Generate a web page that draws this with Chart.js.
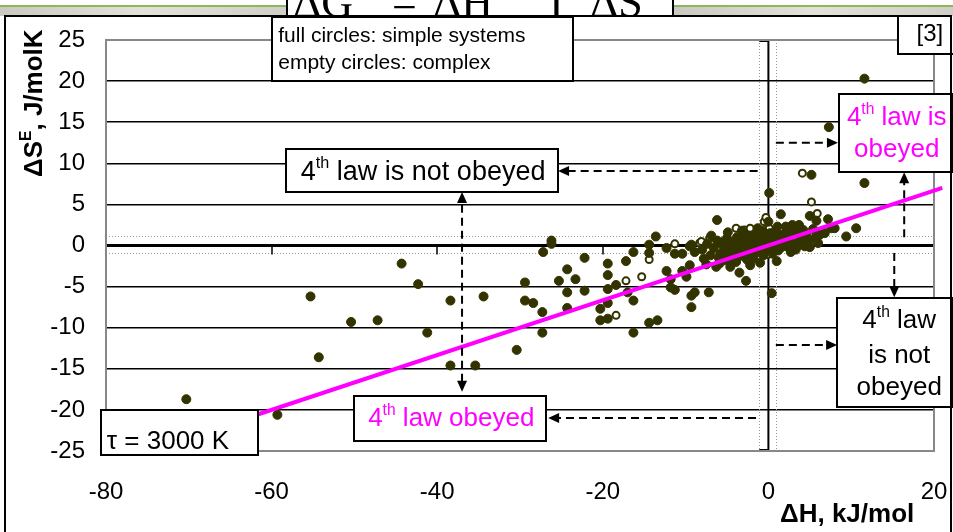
<!DOCTYPE html>
<html>
<head>
<meta charset="utf-8">
<script src="https://cdn.jsdelivr.net/npm/chart.js@4.4.1/dist/chart.umd.min.js"></script>
<style>
  html, body { margin: 0; padding: 0; background: #fff; }
  #wrap { width: 953px; height: 532px; }
</style>
</head>
<body>
<div id="wrap"><canvas id="myChart" width="953" height="532"></canvas></div>
<script>
// full circles : simple systems (dH kJ/mol , dS J/molK)
let simpleX = [-70.3, -59.3, -55.3, -54.3, -50.4, -47.2, -44.3, -42.3, -41.2, -38.4, -38.4, -35.4, -34.4, -30.4,
    -29.4, -29.4, -28.4, -27.3, -27.3, -27.2, -26.2, -26.2, -25.3, -24.3, -24.3, -24.3, -23.3, -22.2, -22.2,
    -20.3, -20.3, -19.4, -19.4, -19.4, -19.4, -19.4, -18.4, -17.2, -17.0, -16.3, -16.3, -16.3, -14.4, -13.4,
    -14.4, -14.4, -13.6, -12.3, -12.3, -11.3, -10.4, -11.8, -11.3, -11.8, -10.4, -9.9, -9.5, -9.3, -8.9, -9.3,
    -9.5, -8.9, -9.3, -7.5, -6.3, -7.2, -6.2, -3.5, -2.7, 0.4, 0.1, 1.5, 5.2, 11.6, 11.6, 7.3, 5.0, 5.8, 7.2,
    8.0, 10.6, 9.4, 5.6, 6.2, 4.6, 6.8, 7.6, 2.5, 3.5, 4.4, 2.1, 3.7, 4.6, 0.3, 0.7, 1.1, 2.1, 2.9, 3.7, -1.3,
    0.0, -8.0, -7.4, -7.0, -6.6, -6.2, -5.8, -5.5, -5.2, -5.0, -4.7, -4.4, -4.1, -3.8, -3.6, -3.3, -3.0, -2.8,
    -2.6, -2.3, -2.0, -1.8, -1.6, -1.3, -1.1, -0.8, -0.6, -0.4, -0.2, 0.2, 0.5, 0.9, 1.2, 1.5, 1.8, 2.3, 2.7,
    3.1, 3.3, 4.0, 5.0, -5.9, -4.6, -3.9, -7.8, -6.9, -2.2, -1.0, 1.0, -4.9, -3.2,
    -5.6, -5.1, -4.8, -4.3, -4.0, -3.7, -3.4, -3.1, -2.9, -2.5, -2.1, -1.9, -1.5, -1.2, -0.9, -0.7, -0.3,
    0.4, 0.8, 1.3, 1.6, 2.0, 2.4, 2.8, 3.2, 3.6, 4.2, 4.8, 5.4, 6.0, -6.0, -5.3, -4.4, -3.5, -2.6];
let simpleY = [-18.7, -20.6, -6.2, -13.6, -9.3, -9.1, -2.2, -4.7, -10.6, -6.7, -14.6, -14.6, -6.2, -12.7,
    -4.5, -6.7, -7.0, -8.1, -10.6, -0.8, 0.6, 0.2, -4.3, -2.9, -5.7, -7.6, -4.1, -1.5, -5.5,
    -7.7, -9.1, -8.9, -2.2, -3.6, -5.3, -7.0, -4.8, -1.9, -5.7, -0.8, -6.7, -10.6, -9.4, -9.1,
    0.1, -0.9, 1.1, -0.3, -3.1, -1.0, -1.0, -4.1, -5.4, -5.1, -3.1, -3.8, -2.4, -6.1, -5.7, -7.5,
    -0.1, -0.8, 0.1, -2.3, -2.6, -5.7, 3.1, -3.3, -4.3, -5.8, 6.4, 3.8, 8.6, 7.6, 20.3, 14.4, 3.6, 3.0, 3.2,
    2.1, 2.1, 1.1, 0.9, 1.3, 1.3, 1.5, 2.1, -0.3, -0.1, -0.1, 0.3, 0.3, 0.5, 0.5, -0.3, 2.3, 2.3, 2.5, 2.5, 2.1,
    2.9, -0.5, 0.2, -1.2, -0.3, 0.6, -1.0, 0.0, -1.8, 0.9, -0.6, 0.3, -1.4, 1.0, -0.2, 0.6, -1.0, 1.3,
    0.1, -0.7, 0.8, -1.6, 0.3, 1.4, -0.4, 0.6, -1.2, 1.0, 0.0, 1.5, -1.0, 0.9, -0.6, 1.3, 0.1, 1.1, -0.8,
    1.6, -0.5, 0.8, -0.2, -2.2, -2.6, -2.0, -1.6, 1.2, -2.4, -2.1, -1.9, 1.6, 1.8,
    0.4, -0.4, 0.2, -0.9, 0.5, -0.5, 0.9, 0.2, -0.5, 0.5, -0.2, 1.2, -0.9, 0.7, 0.0, 1.8, -0.6,
    0.3, 1.7, 0.4, -0.2, 1.5, 0.6, 1.9, 0.2, 1.3, 1.9, 0.5, 2.0, 0.3, -1.5, -1.0, -1.6, -1.3, -1.7];

// empty circles : complex systems
let complexX = [-18.4, -17.2, -15.3, -14.4, -11.3, -8.3, -7.1, -8.1, -3.9, -2.9, -2.2, -0.5, -0.3, 0.1, -0.1, 4.1, 5.2, 5.9];
let complexY = [-8.5, -4.3, -3.8, -1.7, 0.2, 0.3, 0.9, 0.5, 2.1, 1.9, 2.1, 2.9, 3.4, 2.1, -1.1, 8.8, 5.3, 3.9];

// the tau = 3000 K line
let tauX = [-75, 21];
let tauY = [-25, 7];

let xTicks = [-80, -60, -40, -20, 0, 20];

const FONT = '"Liberation Sans", Arial, sans-serif';
const SERIF = '"Liberation Serif", "Times New Roman", serif';
const OLIVE = "#333300";
const MAGENTA = "#ff00ff";

function toPoints(xs, ys) {
    return xs.map(function (x, i) { return {x: x, y: ys[i]}; });
}

// text boxes, in data units
let boxes = [
    {x1: -60.0, y1: 27.8, x2: -23.6, y2: 20.0},
    {x1: 15.6, y1: 28.4, x2: 22.6, y2: 23.3},
    {x1: -58.3, y1: 11.7, x2: -25.4, y2: 6.5},
    {x1: 8.5, y1: 18.4, x2: 22.2, y2: 8.9},
    {x1: 8.3, y1: -6.4, x2: 22.2, y2: -19.6},
    {x1: -50.0, y1: -18.3, x2: -26.9, y2: -23.8},
    {x1: -80.6, y1: -20.0, x2: -61.6, y2: -25.5},
];

let labels = [
    {x: -59.2, y: 24.8, size: 21, color: "#000", align: "left", parts: [{t: "full circles: simple systems"}]},
    {x: -59.2, y: 21.5, size: 21, color: "#000", align: "left", parts: [{t: "empty circles: complex"}]},
    {x: 19.5, y: 24.9, size: 24, color: "#000", align: "center", parts: [{t: "[3]"}]},
    {x: -41.7, y: 8.0, size: 27, color: "#000", align: "center", parts: [{t: "4"}, {t: "th", sup: true}, {t: " law is not obeyed"}]},
    {x: 15.5, y: 14.65, size: 26, color: MAGENTA, align: "center", parts: [{t: "4"}, {t: "th", sup: true}, {t: " law is"}]},
    {x: 15.5, y: 10.8, size: 26, color: MAGENTA, align: "center", parts: [{t: "obeyed"}]},
    {x: 15.8, y: -10.07, size: 26, color: "#000", align: "center", parts: [{t: "4"}, {t: "th", sup: true}, {t: " law"}]},
    {x: 15.8, y: -14.33, size: 26, color: "#000", align: "center", parts: [{t: "is not"}]},
    {x: 15.8, y: -18.2, size: 26, color: "#000", align: "center", parts: [{t: "obeyed"}]},
    {x: -38.3, y: -22.0, size: 26, color: MAGENTA, align: "center", parts: [{t: "4"}, {t: "th", sup: true}, {t: " law obeyed"}]},
    {x: -79.9, y: -24.8, size: 26, color: "#000", align: "left", parts: [{t: "\u03c4 = 3000 K"}]},
];

// dashed arrows [x1, y1, x2, y2, head at start, head at end]
let arrows = [
    [-1.3, 9.06, -25.4, 9.06, false, true],
    [0.9, 12.5, 8.4, 12.5, false, true],
    [-37.0, -17.8, -37.0, 6.5, true, true],
    [16.4, 1.0, 16.4, 8.9, false, true],
    [15.2, -0.9, 15.2, -6.3, false, true],
    [0.9, -12.1, 8.3, -12.1, false, true],
    [-1.5, -21.0, -26.6, -21.0, false, true],
];

function richText(ctx, parts, x, y, size, color, align, bold) {
    let w = 0;
    parts.forEach(function (p) {
        ctx.font = (bold ? "bold " : "") + (p.sup ? size * 0.6 : size) + "px " + FONT;
        w += ctx.measureText(p.t).width;
    });
    let cx = align === "center" ? x - w / 2 : x;
    ctx.fillStyle = color;
    ctx.textAlign = "left";
    ctx.textBaseline = "alphabetic";
    parts.forEach(function (p) {
        ctx.font = (bold ? "bold " : "") + (p.sup ? size * 0.6 : size) + "px " + FONT;
        ctx.fillText(p.t, cx, p.sup ? y - size * 0.42 : y);
        cx += ctx.measureText(p.t).width;
    });
}

function head(ctx, x, y, ang) {
    ctx.save();
    ctx.translate(x, y);
    ctx.rotate(ang);
    ctx.beginPath();
    ctx.moveTo(0, 0);
    ctx.lineTo(-11, -5);
    ctx.lineTo(-11, 5);
    ctx.closePath();
    ctx.fill();
    ctx.restore();
}

let overlay = {
    id: "overlay",
    beforeDatasetsDraw: function (chart) {
        let ctx = chart.ctx, a = chart.chartArea;
        let X = function (v) { return chart.scales.x.getPixelForValue(v); };
        let Y = function (v) { return chart.scales.y.getPixelForValue(v); };
        ctx.save();
        // dotted band round zero
        ctx.strokeStyle = "#9a9a80";
        ctx.lineWidth = 1;
        ctx.setLineDash([1, 2]);
        [1.1, -0.9].forEach(function (v) {
            ctx.beginPath(); ctx.moveTo(a.left, Math.round(Y(v)) + 0.5); ctx.lineTo(a.right, Math.round(Y(v)) + 0.5); ctx.stroke();
        });
        [-1.1, 0.9].forEach(function (v) {
            ctx.beginPath(); ctx.moveTo(Math.round(X(v)) + 0.5, a.top); ctx.lineTo(Math.round(X(v)) + 0.5, a.bottom); ctx.stroke();
        });
        ctx.setLineDash([]);
        // zero lines
        ctx.strokeStyle = "#000";
        ctx.lineWidth = 3;
        ctx.beginPath(); ctx.moveTo(a.left, Y(0)); ctx.lineTo(a.right, Y(0)); ctx.stroke();
        ctx.lineWidth = 2;
        ctx.beginPath(); ctx.moveTo(X(0), a.top); ctx.lineTo(X(0), a.bottom); ctx.stroke();
        ctx.beginPath(); ctx.moveTo(X(-1.1), a.top + 1); ctx.lineTo(X(0), a.top + 1); ctx.stroke();
        ctx.beginPath(); ctx.moveTo(X(-1.1), a.bottom - 1); ctx.lineTo(X(0), a.bottom - 1); ctx.stroke();
        // tick marks on the x axis (crosses at 0)
        ctx.lineWidth = 1.5;
        xTicks.forEach(function (v) {
            let px = Math.round(X(v));
            ctx.beginPath(); ctx.moveTo(px, Y(0)); ctx.lineTo(px, Y(0) + 9); ctx.stroke();
        });
        // plot border
        ctx.strokeStyle = "#888";
        ctx.lineWidth = 2;
        ctx.strokeRect(a.left, a.top, a.right - a.left, a.bottom - a.top);
        ctx.restore();
    },
    afterDatasetsDraw: function (chart) {
        let ctx = chart.ctx, a = chart.chartArea;
        let X = function (v) { return chart.scales.x.getPixelForValue(v); };
        let Y = function (v) { return chart.scales.y.getPixelForValue(v); };
        ctx.save();

        // dashed arrows
        ctx.strokeStyle = "#000";
        ctx.fillStyle = "#000";
        ctx.lineWidth = 2;
        arrows.forEach(function (r) {
            let x1 = X(r[0]), y1 = Y(r[1]), x2 = X(r[2]), y2 = Y(r[3]);
            let ang = Math.atan2(y2 - y1, x2 - x1);
            let dx = Math.cos(ang) * 10, dy = Math.sin(ang) * 10;
            ctx.setLineDash([8, 5]);
            ctx.beginPath();
            ctx.moveTo(r[4] ? x1 + dx : x1, r[4] ? y1 + dy : y1);
            ctx.lineTo(r[5] ? x2 - dx : x2, r[5] ? y2 - dy : y2);
            ctx.stroke();
            ctx.setLineDash([]);
            if (r[4]) head(ctx, x1, y1, ang + Math.PI);
            if (r[5]) head(ctx, x2, y2, ang);
        });

        // boxes
        ctx.lineWidth = 2;
        boxes.forEach(function (b) {
            let x1 = Math.round(X(b.x1)), y1 = Math.round(Y(b.y1));
            let w = Math.round(X(b.x2)) - x1, h = Math.round(Y(b.y2)) - y1;
            ctx.fillStyle = "#fff";
            ctx.fillRect(x1, y1, w, h);
            ctx.strokeRect(x1, y1, w, h);
        });
        labels.forEach(function (l) {
            richText(ctx, l.parts, X(l.x), Y(l.y), l.size, l.color, l.align, false);
        });

        // axis titles
        ctx.save();
        ctx.translate(42, 177);
        ctx.rotate(-Math.PI / 2);
        richText(ctx, [{t: "\u0394S"}, {t: "E", sup: true}, {t: ", J/molK"}], 0, 0, 26, "#000", "left", true);
        ctx.restore();
        richText(ctx, [{t: "\u0394H, kJ/mol"}], 780, 522, 26, "#000", "left", true);

        // slide frame and header strip
        [[0, 287], [673, 280]].forEach(function (s) {
            let g = ctx.createLinearGradient(s[0], 0, s[0] + s[1], 0);
            g.addColorStop(0, "#c9c9c1");
            g.addColorStop(0.5, "#e2e2da");
            g.addColorStop(1, "#cfcfc7");
            ctx.fillStyle = "#fff";
            ctx.fillRect(s[0], 0, s[1], 16);
            ctx.fillStyle = g;
            ctx.fillRect(s[0], 7, s[1], 9);
            ctx.fillStyle = "#8cb85c";
            ctx.fillRect(s[0], 5, s[1], 2);
        });
        ctx.fillStyle = "#fff";
        ctx.fillRect(287, 0, 386, 16);
        ctx.save();
        ctx.beginPath();
        ctx.rect(288, 0, 384, 15);
        ctx.clip();
        ctx.fillStyle = "#000";
        ctx.font = "44px " + SERIF;
        ctx.textBaseline = "alphabetic";
        ctx.textAlign = "left";
        [["\u0394G", 293], ["=", 392], ["\u0394H", 433], ["T", 543], ["\u0394S", 590]].forEach(function (t) {
            ctx.fillText(t[0], t[1], 17);
        });
        ctx.restore();
        ctx.strokeStyle = "#000";
        ctx.lineWidth = 2;
        ctx.beginPath();
        ctx.moveTo(287, 0); ctx.lineTo(287, 16);
        ctx.moveTo(673, 0); ctx.lineTo(673, 16);
        ctx.stroke();
        ctx.strokeRect(5, 16, 946, 530);
        ctx.restore();
    }
};

let ctxChart = document.getElementById("myChart").getContext("2d");
let entropyChart = new Chart(ctxChart, {
    type: "scatter",
    data: {
        datasets: [
            {
                type: "line",
                label: "tau = 3000 K",
                data: toPoints(tauX, tauY),
                borderColor: MAGENTA,
                borderWidth: 4,
                pointRadius: 0,
                clip: false,
                order: 0,
            },
            {
                label: "simple systems",
                data: toPoints(simpleX, simpleY),
                backgroundColor: OLIVE,
                borderColor: OLIVE,
                borderWidth: 1,
                pointRadius: 4.5,
                order: 1,
            },
            {
                label: "complex",
                data: toPoints(complexX, complexY),
                backgroundColor: "#fff",
                borderColor: OLIVE,
                borderWidth: 2,
                pointRadius: 3.5,
                order: 2,
            },
        ],
    },
    options: {
        responsive: false,
        animation: false,
        events: [],
        layout: {padding: {top: 40, right: 19, left: 0, bottom: 0}},
        plugins: {legend: {display: false}, tooltip: {enabled: false}},
        scales: {
            x: {
                type: "linear",
                min: -80,
                max: 20,
                afterFit: function (s) { s.height = 81; s.paddingLeft = 0; s.paddingRight = 0; },
                ticks: {stepSize: 20, color: "#000", padding: 27, font: {family: FONT, size: 24}},
                grid: {display: false, drawTicks: false},
                border: {display: false},
            },
            y: {
                min: -25,
                max: 25,
                afterFit: function (s) { s.width = 106; s.paddingTop = 0; s.paddingBottom = 0; },
                ticks: {stepSize: 5, color: "#000", padding: 21, font: {family: FONT, size: 24}},
                grid: {
                    drawTicks: false,
                    color: "#000",
                    lineWidth: function (c) {
                        let v = c.tick ? c.tick.value : 0;
                        return (v === 0 || v === 25 || v === -25) ? 0 : 1.5;
                    },
                },
                border: {display: false},
            },
        },
    },
    plugins: [overlay],
});
</script>
</body>
</html>
